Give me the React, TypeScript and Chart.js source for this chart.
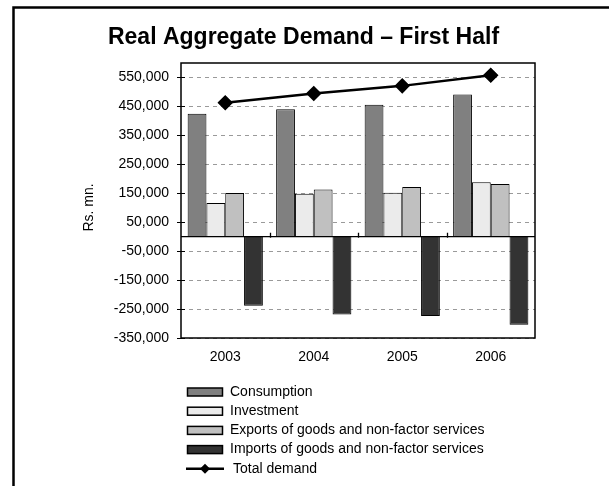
import React, { useEffect, useRef } from 'react';
import { Chart, registerables } from 'chart.js';

Chart.register(...registerables);

const categories = ['2003', '2004', '2005', '2006'];
const consumption = [425000, 440000, 456000, 491000];
const investment = [116000, 148000, 152000, 188000];
const exportsGS = [151000, 163000, 172000, 182000];
const importsGS = [-239000, -269000, -274000, -304000];
const totalDemand = [463000, 495000, 521000, 558000];
const yTickValues = [-350000, -250000, -150000, -50000, 50000, 150000, 250000, 350000, 450000, 550000];
const yAxisTitle = 'Rs. mn.';
const seriesNames = [
  'Consumption',
  'Investment',
  'Exports of goods and non-factor services',
  'Imports of goods and non-factor services',
  'Total demand',
];
const seriesColors = ['#808080', '#ebebeb', '#c0c0c0', '#333333', '#000000'];

const FONT = '"Liberation Sans", Arial, sans-serif';

const decorPlugin = {
  id: 'decor',
  afterDatasetsDraw(chart: any) {
    const { ctx, chartArea: a, scales } = chart;
    const x = scales.x;
    const y = scales.y;
    ctx.save();
    ctx.strokeStyle = '#000';
    // zero line
    const y0 = y.getPixelForValue(0);
    ctx.lineWidth = 1.3;
    ctx.beginPath();
    ctx.moveTo(a.left, y0);
    ctx.lineTo(a.right, y0);
    for (let i = 0; i < categories.length - 1; i++) {
      const bx = Math.round((x.getPixelForValue(i) + x.getPixelForValue(i + 1)) / 2) + 0.5;
      ctx.moveTo(bx, y0 - 4);
      ctx.lineTo(bx, y0 + 1);
    }
    ctx.stroke();
    // plot frame
    ctx.lineWidth = 1.5;
    ctx.strokeRect(a.left, a.top, a.right - a.left, a.bottom - a.top);
    // y tick marks crossing the axis
    ctx.lineWidth = 1;
    ctx.beginPath();
    y.ticks.forEach((t: any) => {
      const py = Math.round(y.getPixelForValue(t.value)) + 0.5;
      ctx.moveTo(a.left - 4, py);
      ctx.lineTo(a.left + 4, py);
    });
    ctx.stroke();
    ctx.restore();
  },
  afterDraw(chart: any) {
    const { ctx, chartArea: a } = chart;
    ctx.save();
    // outer frame (left and top edges)
    ctx.strokeStyle = '#000';
    ctx.lineWidth = 2.5;
    ctx.beginPath();
    ctx.moveTo(13.5, 486);
    ctx.lineTo(13.5, 7.5);
    ctx.lineTo(609, 7.5);
    ctx.stroke();

    // y axis title
    ctx.save();
    ctx.translate(89, (a.top + a.bottom) / 2 + 7);
    ctx.rotate(-Math.PI / 2);
    ctx.font = `14px ${FONT}`;
    ctx.fillStyle = '#000';
    ctx.textAlign = 'center';
    ctx.textBaseline = 'middle';
    ctx.fillText(yAxisTitle, 0, 0);
    ctx.restore();

    // legend
    const startY = 392;
    const step = 19.2;
    ctx.font = `14px ${FONT}`;
    ctx.textBaseline = 'middle';
    ctx.textAlign = 'left';
    chart.data.datasets.forEach((ds: any, i: number) => {
      const cy = startY + i * step;
      if (ds.type === 'line') {
        ctx.strokeStyle = '#000';
        ctx.lineWidth = 2.5;
        ctx.beginPath();
        ctx.moveTo(186, cy);
        ctx.lineTo(224, cy);
        ctx.stroke();
        ctx.fillStyle = '#000';
        ctx.beginPath();
        ctx.moveTo(205, cy - 5);
        ctx.lineTo(210, cy);
        ctx.lineTo(205, cy + 5);
        ctx.lineTo(200, cy);
        ctx.closePath();
        ctx.fill();
        ctx.fillStyle = '#000';
        ctx.fillText(ds.label, 233, cy);
      } else {
        ctx.fillStyle = ds.backgroundColor;
        ctx.fillRect(187.5, cy - 4, 35, 8);
        ctx.strokeStyle = '#000';
        ctx.lineWidth = 1.5;
        ctx.strokeRect(187.5, cy - 4, 35, 8);
        ctx.fillStyle = '#000';
        ctx.fillText(ds.label, 230, cy);
      }
    });
    ctx.restore();
  },
};

export default function App() {
  const canvasRef = useRef<HTMLCanvasElement | null>(null);

  useEffect(() => {
    if (!canvasRef.current) return;
    const barCommon = {
      borderColor: '#000',
      borderWidth: 1,
      categoryPercentage: 0.85,
      barPercentage: 1,
      order: 1,
    };
    const chart = new Chart(canvasRef.current, {
      type: 'bar',
      data: {
        labels: categories,
        datasets: [
          { ...barCommon, label: seriesNames[0], data: consumption, backgroundColor: seriesColors[0] },
          { ...barCommon, label: seriesNames[1], data: investment, backgroundColor: seriesColors[1] },
          { ...barCommon, label: seriesNames[2], data: exportsGS, backgroundColor: seriesColors[2] },
          { ...barCommon, label: seriesNames[3], data: importsGS, backgroundColor: seriesColors[3] },
          {
            type: 'line',
            label: seriesNames[4],
            data: totalDemand,
            borderColor: seriesColors[4],
            backgroundColor: seriesColors[4],
            borderWidth: 2.5,
            pointStyle: 'rectRot',
            pointRadius: 6,
            pointBackgroundColor: '#000',
            pointBorderColor: '#000',
            order: 0,
          } as any,
        ],
      },
      options: {
        animation: false,
        responsive: false,
        maintainAspectRatio: false,
        layout: { padding: { left: 72, right: 74, top: 0, bottom: 118 } },
        plugins: {
          legend: { display: false },
          tooltip: { enabled: false },
          title: {
            display: true,
            text: 'Real Aggregate Demand \u2013 First Half',
            color: '#000',
            font: { family: FONT, size: 23, weight: 'bold', lineHeight: 1.2 },
            padding: { top: 24, bottom: 11.4 },
          },
        },
        scales: {
          x: {
            grid: { display: false, drawTicks: false },
            border: { display: false },
            ticks: { color: '#000', font: { family: FONT, size: 14 }, padding: 11 },
            afterFit: (s: any) => {
              s.height = 30;
            },
          },
          y: {
            min: -350000,
            max: 600000,
            afterBuildTicks: (s: any) => {
              s.ticks = yTickValues.map((v) => ({ value: v }));
            },
            afterFit: (s: any) => {
              s.width = 109;
            },
            grid: { color: '#9a9a9a', lineWidth: 1, drawTicks: false },
            border: { display: false, dash: [4, 4] },
            ticks: {
              color: '#000',
              padding: 12,
              font: { family: FONT, size: 14 },
              callback: (v: any) => Number(v).toLocaleString('en-US'),
            },
            title: { display: false },
          },
        },
      },
      plugins: [decorPlugin],
    } as any);
    return () => chart.destroy();
  }, []);

  return (
    <div style={{ position: 'absolute', left: 0, top: 0, width: 609, height: 486, background: '#fff' }}>
      <canvas ref={canvasRef} width={609} height={486} />
    </div>
  );
}
